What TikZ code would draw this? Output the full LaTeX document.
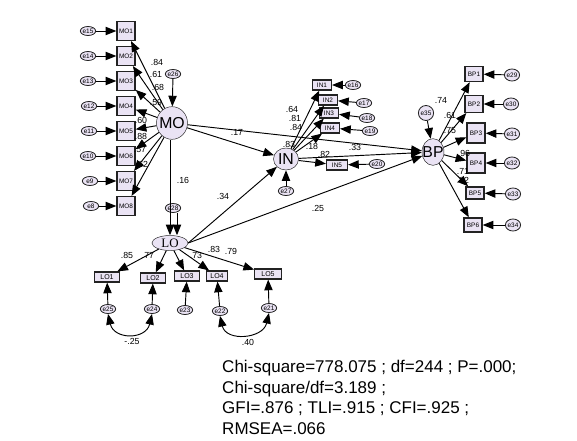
\documentclass[tikz,border=0pt]{standalone}
\usepackage{fontspec}
\setmainfont{Liberation Sans}
\newfontfamily\loserif{Liberation Serif}
\usepackage{xcolor}
\usepackage{tikz}
\usetikzlibrary{arrows.meta,shapes.geometric}
\definecolor{amosfill}{RGB}{234,227,244}
\definecolor{amosline}{RGB}{35,35,35}

\begin{document}
\begin{tikzpicture}[x=0.03cm,y=-0.03cm,>={Triangle[length=3.2mm,width=2.5mm]},
  lat/.style={ellipse,draw=amosline,fill=amosfill,inner sep=0pt,font=\fontsize{13.5}{14}\selectfont},
  ind/.style={rectangle,draw=amosline,line width=1.2pt,fill=amosfill,inner sep=0pt,minimum width=0.54cm,minimum height=0.56cm,font=\fontsize{5.5}{6}\selectfont},
  indsm/.style={ind,line width=1pt,minimum width=0.57cm,minimum height=0.3cm},
  errv/.style={ellipse,draw=amosline,line width=0.7pt,fill=amosfill,inner sep=0pt,minimum width=0.46cm,minimum height=0.27cm,font=\fontsize{5.5}{6}\selectfont},
  errbp/.style={errv,minimum width=0.42cm,minimum height=0.36cm},
  coef/.style={inner sep=0pt,font=\fontsize{7.5}{8}\selectfont},
  arr/.style={->,line width=0.8pt},
  cov/.style={<->,line width=0.8pt}]
  \useasboundingbox (0,0) rectangle (577,441);
  % latent variables
  \node[lat,minimum width=0.93cm,minimum height=0.98cm] (MO) at (172,123) {\makebox[0pt]{MO}};
  \node[lat,minimum width=0.75cm,minimum height=0.66cm] (IN) at (286,159) {\makebox[0pt]{IN}};
  \node[lat,minimum width=0.66cm,minimum height=0.8cm] (BP) at (433,152) {\makebox[0pt]{BP}};
  \node[lat,minimum width=1.08cm,minimum height=0.45cm,font=\loserif\fontsize{11}{12}\selectfont] (LO) at (170,243) {\makebox[0pt]{LO}};
  % MO indicators
  \node[ind] (MO1) at (126,31) {MO1};
  \node[ind] (MO2) at (126,56) {MO2};
  \node[ind] (MO3) at (126,81) {MO3};
  \node[ind] (MO4) at (126,106) {MO4};
  \node[ind] (MO5) at (126,131) {MO5};
  \node[ind] (MO6) at (126,156) {MO6};
  \node[ind] (MO7) at (126,181) {MO7};
  \node[ind] (MO8) at (126,206) {MO8};
  \node[errv] (e15) at (88,31) {e15};
  \node[errv] (e14) at (88,56) {e14};
  \node[errv] (e13) at (88,81) {e13};
  \node[errv] (e12) at (89,106) {e12};
  \node[errv] (e11) at (89,131) {e11};
  \node[errv] (e10) at (88,156) {e10};
  \node[errv] (e9) at (90,181) {e9};
  \node[errv] (e8) at (91,206) {e8};
  \node[errv] (e26) at (173,74) {e26};
  \node[errv] (e28) at (173,208) {e28};
  % LO indicators
  \node[indsm,minimum width=0.75cm,font=\fontsize{6}{7}\selectfont] (LO1) at (107,277) {LO1};
  \node[indsm,minimum width=0.75cm,font=\fontsize{6}{7}\selectfont] (LO2) at (153,278) {LO2};
  \node[indsm,minimum width=0.75cm,font=\fontsize{6}{7}\selectfont] (LO3) at (187,276) {LO3};
  \node[indsm,minimum width=0.62cm,font=\fontsize{6}{7}\selectfont] (LO4) at (217,276) {LO4};
  \node[indsm,minimum width=0.8cm,font=\fontsize{6}{7}\selectfont] (LO5) at (268,274) {LO5};
  \node[errv] (e25) at (108,309) {e25};
  \node[errv] (e24) at (152,309) {e24};
  \node[errv] (e23) at (185,310) {e23};
  \node[errv] (e22) at (220,311) {e22};
  \node[errv] (e21) at (269,308) {e21};
  % IN indicators
  \node[indsm] (IN1) at (322,85) {IN1};
  \node[indsm] (IN2) at (328,100) {IN2};
  \node[indsm] (IN3) at (329,113) {IN3};
  \node[indsm] (IN4) at (330,128) {IN4};
  \node[indsm,minimum width=0.63cm] (IN5) at (337,165) {IN5};
  \node[errv] (e16) at (353,85) {e16};
  \node[errv] (e17) at (364,103) {e17};
  \node[errv] (e18) at (367,118) {e18};
  \node[errv] (e19) at (370,131) {e19};
  \node[errv] (e20) at (377,164) {e20};
  \node[errv] (e27) at (286,191) {e27};
  % BP indicators
  \node[ind,minimum height=0.45cm] (BP1) at (474,74) {BP1};
  \node[ind,minimum height=0.5cm] (BP2) at (474,104) {BP2};
  \node[ind,minimum height=0.6cm] (BP3) at (476,133) {BP3};
  \node[ind,minimum height=0.6cm] (BP4) at (476,163) {BP4};
  \node[ind,minimum height=0.36cm] (BP5) at (475,193) {BP5};
  \node[ind,minimum height=0.42cm] (BP6) at (473,225) {BP6};
  \node[errbp] (e29) at (512,75) {e29};
  \node[errbp] (e30) at (511,104) {e30};
  \node[errbp] (e31) at (512,134) {e31};
  \node[errbp] (e32) at (512,163) {e32};
  \node[errbp] (e33) at (513,194) {e33};
  \node[errbp] (e34) at (513,225) {e34};
  \node[errbp,minimum width=0.45cm,minimum height=0.45cm] (e35) at (426,113) {e35};
  % error terms
  \draw[arr] (e15) -- (MO1);
  \draw[arr] (e14) -- (MO2);
  \draw[arr] (e13) -- (MO3);
  \draw[arr] (e12) -- (MO4);
  \draw[arr] (e11) -- (MO5);
  \draw[arr] (e10) -- (MO6);
  \draw[arr] (e9) -- (MO7);
  \draw[arr] (e8) -- (MO8);
  \draw[arr] (e26) -- (MO);
  \draw[arr] ([xshift=0.12cm]e28.south) -- ([xshift=0.12cm]e28.south |- LO.north);
  \draw[arr] (e25) -- (LO1);
  \draw[arr] (e24) -- (LO2);
  \draw[arr] (e23) -- (LO3);
  \draw[arr] (e22) -- (LO4);
  \draw[arr] (e21) -- (LO5);
  \draw[arr] (e16) -- (IN1);
  \draw[arr] (e17) -- (IN2);
  \draw[arr] (e18) -- (IN3);
  \draw[arr] (e19) -- (IN4);
  \draw[arr] (e20) -- (IN5);
  \draw[arr] (e27) -- (IN);
  \draw[arr] (e29) -- (BP1);
  \draw[arr] (e30) -- (BP2);
  \draw[arr] (e31) -- (BP3);
  \draw[arr] (e32) -- (BP4);
  \draw[arr] (e33) -- (BP5);
  \draw[arr] (e34) -- (BP6);
  \draw[arr] (e35) -- (BP);
  % loadings
  \draw[arr] (MO) -- (MO1);
  \draw[arr] (MO) -- (MO2);
  \draw[arr] (MO) -- (MO3);
  \draw[arr] (MO) -- (MO4);
  \draw[arr] (MO) -- (MO5);
  \draw[arr] (MO) -- (MO6);
  \draw[arr] (MO) -- (MO7);
  \draw[arr] (MO) -- (MO8);
  \draw[arr] (LO) -- (LO1);
  \draw[arr] (LO) -- (LO2);
  \draw[arr] (LO) -- (LO3);
  \draw[arr] (LO) -- (LO4);
  \draw[arr] (LO) -- (LO5);
  \draw[arr] (IN) -- (IN1);
  \draw[arr] (IN) -- (IN2);
  \draw[arr] (IN) -- (IN3);
  \draw[arr] (IN) -- (IN4);
  \draw[arr] (IN) -- (IN5);
  \draw[arr] (BP) -- (BP1);
  \draw[arr] (BP) -- (BP2);
  \draw[arr] (BP) -- (BP3);
  \draw[arr] (BP) -- (BP4);
  \draw[arr] (BP) -- (BP5);
  \draw[arr] (BP) -- (BP6);
  % structural paths
  \draw[arr] ([xshift=-0.06cm]MO.south) -- ([xshift=-0.06cm]MO.south |- LO.north);
  \draw[arr] (MO) -- (IN);
  \draw[arr] (MO) -- (BP);
  \draw[arr] (LO.east) -- (IN);
  \draw[arr] (LO.east) -- (BP);
  \draw[arr] (IN) -- (BP);
  % covariances
  \draw[cov] (e25.south) .. controls +(6,26) and +(-6,26) .. (e24.south);
  \draw[cov] (e22.south) .. controls +(6,26) and +(-6,26) .. (e21.south);
  % estimates
  \node[coef] (c1) at (157,62) {.84};
  \node[coef] (c2) at (156,74) {.61};
  \node[coef] (c3) at (158,87) {.68};
  \node[coef] (c4) at (156,102) {.59};
  \node[coef] (c5) at (141,120) {.60};
  \node[coef] (c6) at (141,136) {.88};
  \node[coef] (c7) at (140,150) {.57};
  \node[coef] (c8) at (142,164) {.62};
  \node[coef] (c9) at (183,180) {.16};
  \node[coef] (c10) at (237,132) {.17};
  \node[coef] (c11) at (223,196) {.34};
  \node[coef] (c12) at (318,208) {.25};
  \node[coef] (c13) at (127,255) {.85};
  \node[coef] (c14) at (148,255) {.77};
  \node[coef] (c15) at (196,255) {.73};
  \node[coef] (c16) at (214,249) {.83};
  \node[coef] (c17) at (231,251) {.79};
  \node[coef] (c18) at (292,109) {.64};
  \node[coef] (c19) at (295,118) {.81};
  \node[coef] (c20) at (296,127) {.84};
  \node[coef] (c21) at (289,144) {.83};
  \node[coef] (c22) at (312,146) {.18};
  \node[coef] (c23) at (324,154) {.82};
  \node[coef] (c24) at (355,147) {.33};
  \node[coef] (c25) at (441,100) {.74};
  \node[coef] (c26) at (450,115) {.61};
  \node[coef] (c27) at (450,131) {.75};
  \node[coef] (c28) at (464,153) {.96};
  \node[coef] (c29) at (463,171) {.71};
  \node[coef] (c30) at (463,180) {.82};
  \node[coef] (c31) at (132,341) {-.25};
  \node[coef] (c32) at (248,342) {.40};
  % fit indices
  \node[anchor=north west,inner sep=0pt,align=left,font=\fontsize{14.5}{17.6}\selectfont] (fit) at (222,360) {Chi-square=778.075 ; df=244 ; P=.000;\\Chi-square/df=3.189 ;\\GFI=.876 ; TLI=.915 ; CFI=.925 ;\\RMSEA=.066};
\end{tikzpicture}
\end{document}
